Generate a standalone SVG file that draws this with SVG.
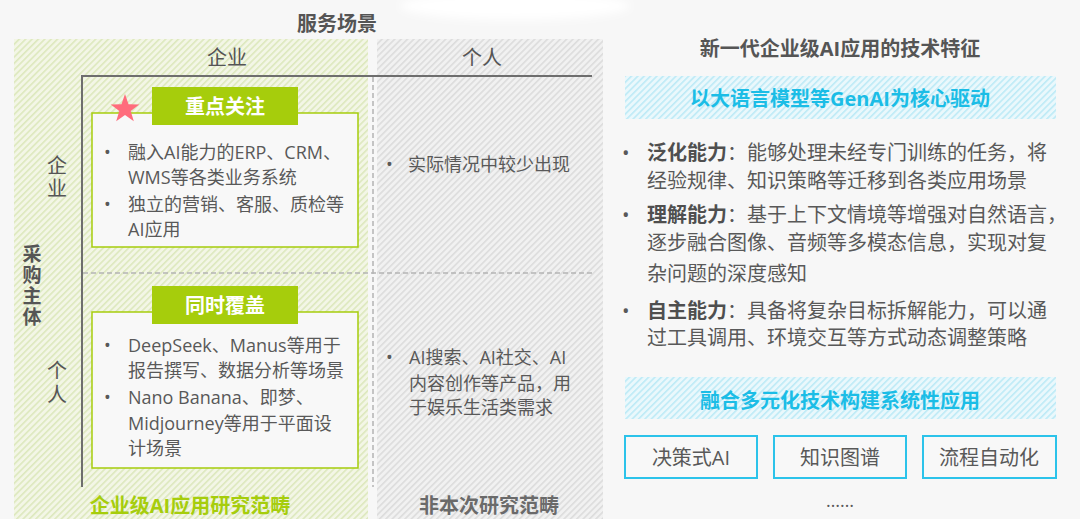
<svg xmlns="http://www.w3.org/2000/svg" width="1080" height="519" viewBox="0 0 1080 519">
  <defs>
    <pattern id="hatchGreen" patternUnits="userSpaceOnUse" width="4.5" height="4.5" patternTransform="rotate(45)">
      <rect width="4.5" height="4.5" fill="#f3f6e6"/>
      <rect width="1.6" height="4.5" fill="#dde8bd"/>
    </pattern>
    <pattern id="hatchGray" patternUnits="userSpaceOnUse" width="4.5" height="4.5" patternTransform="rotate(45)">
      <rect width="4.5" height="4.5" fill="#f1f1f1"/>
      <rect width="1.6" height="4.5" fill="#dcdcdc"/>
    </pattern>
    <pattern id="hatchCyan" patternUnits="userSpaceOnUse" width="4.5" height="4.5" patternTransform="rotate(45)">
      <rect width="4.5" height="4.5" fill="#eaf8fc"/>
      <rect width="1.6" height="4.5" fill="#bdeaf6"/>
    </pattern>
    <filter id="blur" x="-20%" y="-50%" width="140%" height="200%">
      <feGaussianBlur stdDeviation="4"/>
    </filter>
  </defs>
  <style>
    text { font-family: "Open Sans", "Noto Sans CJK SC", sans-serif; fill: #595959; dominant-baseline: central; }
    .t18 { font-size: 18px; }
    .t20 { font-size: 20px; }
    .hdr { font-size: 20px; fill: #555555; text-anchor: middle; }
    .vert { writing-mode: vertical-rl; text-anchor: middle; fill: #555555; font-family: "Noto Sans CJK SC", sans-serif; }
    .bold { font-weight: bold; }
    .lbl { font-size: 20px; font-weight: bold; fill: #ffffff; text-anchor: middle; }
    .green { fill: #a6cd0c; }
    .cyan { fill: #1bbde6; }
    .mid { text-anchor: middle; }
    .frame { fill: #f8f8f8; stroke: #a6cd0c; stroke-width: 1.5; }
    .lblbox { fill: #a6cd0c; }
    .cbox { fill: #f8f8f8; stroke: #2cc3ea; stroke-width: 2; }
    .axis { stroke: #6e6e6e; stroke-width: 2; fill: none; }
    .dash { stroke: #b4b4b4; stroke-width: 1.5; stroke-dasharray: 5 3; fill: none; }
  </style>

  <rect width="1080" height="519" fill="#f7f7f7"/>
  <ellipse cx="515" cy="6" rx="115" ry="14" fill="#ffffff" filter="url(#blur)"/>

  <!-- background regions -->
  <rect x="14" y="39" width="354" height="480" fill="url(#hatchGreen)"/>
  <rect x="377" y="39" width="226" height="480" fill="url(#hatchGray)"/>

  <text class="hdr bold" x="337" y="23">服务场景</text>
  <text class="hdr" x="227" y="57">企业</text>
  <text class="hdr" x="482" y="57">个人</text>

  <!-- axes / separators -->
  <g id="connectors">
    <line class="axis" x1="82" y1="76" x2="592" y2="76"/>
    <line class="axis" x1="82" y1="75" x2="82" y2="487"/>
    <line class="dash" x1="373" y1="77" x2="373" y2="487"/>
    <line class="dash" x1="83" y1="273" x2="592" y2="273"/>
  </g>

  <!-- left vertical labels -->
  <g id="axis-labels">
    <text class="vert" x="57" y="178" style="font-size:20px;letter-spacing:3px">企业</text>
    <text class="vert bold" x="32" y="286" style="font-size:19px;letter-spacing:2px">采购主体</text>
    <text class="vert" x="57" y="384" style="font-size:20px;letter-spacing:4px">个人</text>
  </g>

  <!-- enterprise-enterprise quadrant -->
  <g id="node-focus">
    <rect class="frame" x="92" y="113" width="266" height="134"/>
    <rect class="lblbox" x="152" y="87" width="146" height="38"/>
    <text class="lbl" x="225" y="106">重点关注</text>
    <polygon fill="#ff6c7c" points="125,94 128.5,104.2 139.3,104.4 130.7,110.9 133.8,121.3 125,115 116.2,121.3 119.3,110.9 110.7,104.4 121.5,104.2"/>
    <text class="t18" x="104" y="152">•</text>
    <text class="t18" x="128" y="152">融入AI能力的ERP、CRM、</text>
    <text class="t18" x="128" y="177">WMS等各类业务系统</text>
    <text class="t18" x="104" y="204">•</text>
    <text class="t18" x="128" y="204">独立的营销、客服、质检等</text>
    <text class="t18" x="128" y="229">AI应用</text>
  </g>

  <!-- personal-enterprise quadrant -->
  <g id="node-both">
    <rect class="frame" x="92" y="312" width="266" height="156"/>
    <rect class="lblbox" x="152" y="286" width="146" height="38"/>
    <text class="lbl" x="225" y="305">同时覆盖</text>
    <text class="t18" x="104" y="345">•</text>
    <text class="t18" x="128" y="345">DeepSeek、Manus等用于</text>
    <text class="t18" x="128" y="370">报告撰写、数据分析等场景</text>
    <text class="t18" x="104" y="397">•</text>
    <text class="t18" x="128" y="397">Nano Banana、即梦、</text>
    <text class="t18" x="128" y="423">Midjourney等用于平面设</text>
    <text class="t18" x="128" y="448">计场景</text>
  </g>

  <g id="node-rare">
    <text class="t18" x="386" y="164">•</text>
    <text class="t18" x="408" y="164">实际情况中较少出现</text>
  </g>

  <g id="node-consumer">
    <text class="t18" x="386" y="357">•</text>
    <text class="t18" x="409" y="357">AI搜索、AI社交、AI</text>
    <text class="t18" x="409" y="383">内容创作等产品，用</text>
    <text class="t18" x="409" y="407">于娱乐生活类需求</text>
  </g>

  <g id="footer-labels">
    <text class="t20 bold green mid" x="190" y="505">企业级AI应用研究范畴</text>
    <text class="t20 bold mid" x="489" y="505" style="fill:#6a6a6a">非本次研究范畴</text>
  </g>

  <!-- right panel -->
  <g id="right-title">
    <text class="hdr bold" x="840" y="48">新一代企业级AI应用的技术特征</text>
  </g>

  <g id="band-genai">
    <rect x="625" y="76" width="431" height="43" fill="url(#hatchCyan)"/>
    <text class="t20 bold cyan mid" x="840" y="98">以大语言模型等GenAI为核心驱动</text>
  </g>

  <g id="features">
    <text class="t20" x="622" y="152">•</text>
    <text class="t20" x="647" y="152"><tspan class="bold" style="fill:#4f4f4f">泛化能力</tspan>：能够处理未经专门训练的任务，将</text>
    <text class="t20" x="647" y="180">经验规律、知识策略等迁移到各类应用场景</text>
    <text class="t20" x="622" y="214">•</text>
    <text class="t20" x="647" y="214"><tspan class="bold" style="fill:#4f4f4f">理解能力</tspan>：基于上下文情境等增强对自然语言，</text>
    <text class="t20" x="647" y="242">逐步融合图像、音频等多模态信息，实现对复</text>
    <text class="t20" x="647" y="273">杂问题的深度感知</text>
    <text class="t20" x="622" y="310">•</text>
    <text class="t20" x="647" y="310"><tspan class="bold" style="fill:#4f4f4f">自主能力</tspan>：具备将复杂目标拆解能力，可以通</text>
    <text class="t20" x="647" y="337">过工具调用、环境交互等方式动态调整策略</text>
  </g>

  <g id="band-fusion">
    <rect x="625" y="377" width="431" height="42" fill="url(#hatchCyan)"/>
    <text class="t20 bold cyan mid" x="840" y="400">融合多元化技术构建系统性应用</text>
  </g>

  <g id="box-decision">
    <rect class="cbox" x="625" y="436" width="132" height="42"/>
    <text class="t20 mid" x="691" y="457">决策式AI</text>
  </g>
  <g id="box-kg">
    <rect class="cbox" x="774" y="436" width="132" height="42"/>
    <text class="t20 mid" x="840" y="457">知识图谱</text>
  </g>
  <g id="box-rpa">
    <rect class="cbox" x="923" y="436" width="133" height="42"/>
    <text class="t20 mid" x="989" y="457">流程自动化</text>
  </g>
  <g id="more">
    <text class="t18 mid" x="840" y="500">……</text>
  </g>
</svg>
